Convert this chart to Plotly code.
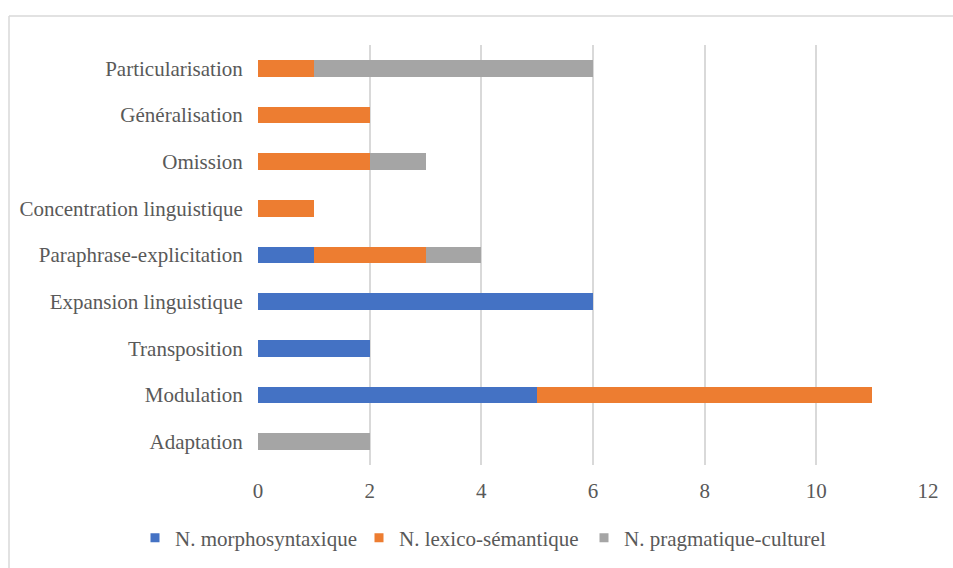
import plotly.graph_objects as go

categories = ["Adaptation", "Modulation", "Transposition", "Expansion linguistique",
              "Paraphrase-explicitation", "Concentration linguistique", "Omission",
              "Généralisation", "Particularisation"]
morpho = [0, 5, 2, 6, 1, 0, 0, 0, 0]
lexico = [0, 6, 0, 0, 2, 1, 2, 2, 1]
pragma = [2, 0, 0, 0, 1, 0, 1, 0, 5]
series_names = ["N. morphosyntaxique", "N. lexico-sémantique", "N. pragmatique-culturel"]
colors = ["#4472C4", "#ED7D31", "#A5A5A5"]
x_ticks = [0, 2, 4, 6, 8, 10, 12]

FONT = "Liberation Serif"
FS = 21

W, H = 953, 568
ml, mr, mt, mb = 258, 25, 45, 103
pw, ph = W - ml - mr, H - mt - mb

def px_x(p):
    return (p - ml) / pw

def px_y(p):
    return (H - mb - p) / ph

legend_ids = ["legend", "legend2", "legend3"]
legend_text_x = [175, 399, 624]

fig = go.Figure()
for name, vals, col in zip(series_names, [morpho, lexico, pragma], colors):
    fig.add_trace(go.Bar(y=categories, x=vals, name=name, orientation="h",
                         marker=dict(color=col, line=dict(width=0)), width=0.36,
                         showlegend=False))
for name, col, lid in zip(series_names, colors, legend_ids):
    fig.add_trace(go.Scatter(x=[None], y=[None], mode="markers", name=name,
                             legend=lid,
                             marker=dict(symbol="square", size=9, color=col)))

legend_cfg = {}
for lid, tx in zip(legend_ids, legend_text_x):
    legend_cfg[lid] = dict(orientation="h", x=px_x(tx - 40), xanchor="left",
                           y=px_y(538), yanchor="middle",
                           font=dict(family=FONT, size=FS),
                           bgcolor="rgba(0,0,0,0)")

fig.update_layout(
    width=W, height=H,
    barmode="stack",
    margin=dict(l=ml, r=mr, t=mt, b=mb, autoexpand=False),
    paper_bgcolor="white", plot_bgcolor="white",
    font=dict(family=FONT, size=FS, color="#595959"),
    xaxis=dict(range=[0, 12], tickvals=x_ticks, showgrid=True, gridcolor="#D9D9D9",
               gridwidth=1.5, zeroline=False, showline=False, ticks="outside",
               ticklen=7, tickcolor="rgba(0,0,0,0)", tickfont=dict(family=FONT, size=FS)),
    yaxis=dict(categoryorder="array", categoryarray=categories, showgrid=False,
               zeroline=False, showline=False, ticks="outside", ticklen=10,
               tickcolor="rgba(0,0,0,0)", tickfont=dict(family=FONT, size=FS)),
    bargap=0.6,
    shapes=[
        dict(type="line", xref="paper", yref="paper", x0=px_x(9), x1=px_x(9),
             y0=px_y(16), y1=px_y(700), line=dict(color="#D9D9D9", width=1.5)),
        dict(type="line", xref="paper", yref="paper", x0=px_x(9), x1=px_x(1000),
             y0=px_y(16), y1=px_y(16), line=dict(color="#D9D9D9", width=1.5)),
    ],
    **legend_cfg,
)
fig.write_html("out.html")
